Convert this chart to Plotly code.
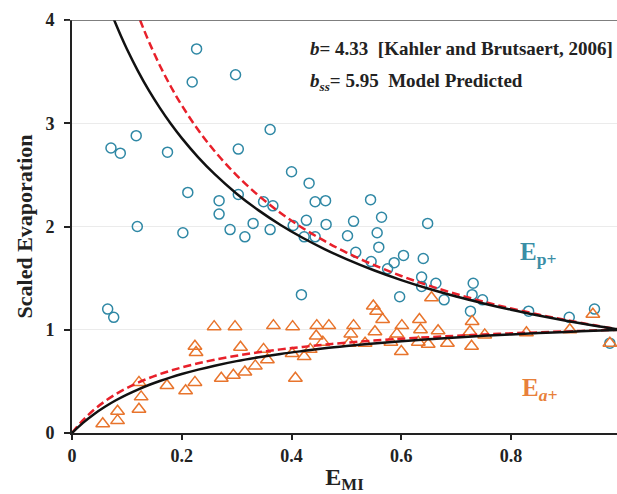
import plotly.graph_objects as go

# ---- data ----
ep_x = [0.227, 0.219, 0.298, 0.117, 0.071, 0.088, 0.174, 0.303, 0.361, 0.211, 0.303, 0.268, 0.268,
        0.349, 0.366, 0.119, 0.202, 0.288, 0.315, 0.330, 0.361, 0.400, 0.432, 0.443, 0.403, 0.427,
        0.423, 0.443, 0.462, 0.544, 0.463, 0.513, 0.564, 0.648, 0.502, 0.556, 0.559, 0.517, 0.545,
        0.575, 0.587, 0.604, 0.640, 0.637, 0.637, 0.663, 0.678, 0.597, 0.731, 0.729, 0.748, 0.726,
        0.832, 0.906, 0.952, 0.980, 0.418, 0.065, 0.076]
ep_y = [3.72, 3.40, 3.47, 2.88, 2.76, 2.71, 2.72, 2.75, 2.94, 2.33, 2.31, 2.25, 2.12,
        2.24, 2.20, 2.00, 1.94, 1.97, 1.90, 2.03, 1.97, 2.53, 2.42, 2.24, 2.01, 2.06,
        1.90, 1.90, 2.25, 2.26, 2.02, 2.05, 2.09, 2.03, 1.91, 1.94, 1.80, 1.75, 1.66,
        1.59, 1.65, 1.72, 1.69, 1.51, 1.42, 1.45, 1.29, 1.32, 1.45, 1.34, 1.29, 1.18,
        1.18, 1.12, 1.20, 0.87, 1.34, 1.20, 1.12]

ea_x = [0.056, 0.083, 0.083, 0.122, 0.126, 0.122, 0.173, 0.207, 0.224, 0.224, 0.226, 0.259, 0.297,
        0.307, 0.272, 0.294, 0.315, 0.334, 0.349, 0.356, 0.367, 0.402, 0.401, 0.423, 0.407, 0.446,
        0.445, 0.434, 0.468, 0.457, 0.513, 0.508, 0.505, 0.534, 0.552, 0.549, 0.555, 0.566, 0.601,
        0.592, 0.581, 0.600, 0.633, 0.635, 0.631, 0.649, 0.655, 0.667, 0.684, 0.729, 0.725, 0.728,
        0.752, 0.828, 0.907, 0.949, 0.980]
ea_y = [0.09, 0.21, 0.12, 0.49, 0.35, 0.23, 0.46, 0.41, 0.49, 0.84, 0.78, 1.03, 1.03,
        0.83, 0.53, 0.56, 0.59, 0.65, 0.81, 0.71, 1.04, 1.03, 0.77, 0.74, 0.53, 1.04,
        0.94, 0.81, 1.04, 0.88, 1.04, 0.96, 0.87, 0.87, 0.98, 1.23, 1.18, 1.10, 1.04,
        0.96, 0.88, 0.79, 1.10, 1.00, 0.88, 0.86, 1.31, 0.99, 0.87, 1.08, 0.98, 0.84,
        0.95, 0.97, 1.00, 1.15, 0.87]

# curve values (b = 4.33, black solid)
kb_ep_x = [0.076, 0.09, 0.10, 0.12, 0.14, 0.16, 0.18, 0.20, 0.23, 0.26, 0.30, 0.34, 0.38, 0.42,
           0.46, 0.50, 0.55, 0.60, 0.65, 0.70, 0.75, 0.80, 0.85, 0.90, 0.95, 1.00]
kb_ep_y = [4.010, 3.835, 3.719, 3.508, 3.318, 3.149, 2.995, 2.856, 2.670, 2.507, 2.318, 2.156,
           2.015, 1.891, 1.782, 1.684, 1.576, 1.481, 1.397, 1.322, 1.255, 1.194, 1.139, 1.088,
           1.042, 1.000]
kb_ea_x = [0.0, 0.02, 0.04, 0.06, 0.08, 0.10, 0.12, 0.14, 0.16, 0.18, 0.20, 0.23, 0.26, 0.30,
           0.34, 0.38, 0.42, 0.46, 0.50, 0.55, 0.60, 0.65, 0.70, 0.75, 0.80, 0.85, 0.90, 0.95, 1.00]
kb_ea_y = [0.0, 0.098, 0.182, 0.254, 0.317, 0.372, 0.421, 0.465, 0.504, 0.539, 0.571, 0.614,
           0.652, 0.696, 0.733, 0.766, 0.794, 0.820, 0.842, 0.867, 0.889, 0.908, 0.925, 0.941,
           0.955, 0.968, 0.979, 0.990, 1.000]

# curve values (b_ss = 5.95, red dashed)
ss_ep_x = [0.124, 0.13, 0.14, 0.16, 0.18, 0.20, 0.23, 0.26, 0.30, 0.34, 0.38, 0.42, 0.46, 0.50,
           0.55, 0.60, 0.65, 0.70, 0.75, 0.80, 0.85, 0.90, 0.95, 1.00]
ss_ep_y = [3.999, 3.919, 3.792, 3.560, 3.356, 3.174, 2.934, 2.729, 2.496, 2.299, 2.131, 1.986,
           1.860, 1.748, 1.627, 1.521, 1.428, 1.346, 1.272, 1.207, 1.147, 1.094, 1.045, 1.000]
ss_ea_x = kb_ea_x
ss_ea_y = [0.0, 0.124, 0.225, 0.307, 0.377, 0.436, 0.487, 0.531, 0.570, 0.604, 0.635, 0.675,
           0.710, 0.749, 0.782, 0.810, 0.834, 0.856, 0.874, 0.895, 0.913, 0.928, 0.942, 0.954,
           0.965, 0.975, 0.984, 0.993, 1.000]

x_ticks = [0, 0.2, 0.4, 0.6, 0.8]
x_tick_text = ["0", "0.2", "0.4", "0.6", "0.8"]
y_ticks = [0, 1, 2, 3, 4]

TEAL = "#2f88a5"
ORANGE = "#e8742c"
FONT = "Liberation Serif, Times New Roman, serif"

fig = go.Figure()
fig.add_trace(go.Scatter(x=ep_x, y=ep_y, mode="markers",
                         marker=dict(symbol="circle-open", size=10, color=TEAL, line=dict(width=1.5)),
                         showlegend=False, cliponaxis=False))
fig.add_trace(go.Scatter(x=ea_x, y=ea_y, mode="markers",
                         marker=dict(symbol="triangle-up-open", size=12, color=ORANGE, line=dict(width=1.5)),
                         showlegend=False, cliponaxis=False))
fig.add_trace(go.Scatter(x=ss_ep_x, y=ss_ep_y, mode="lines", line=dict(color="#e8202a", width=2.5, dash="8px,4px", shape="spline"),
                         showlegend=False))
fig.add_trace(go.Scatter(x=ss_ea_x, y=ss_ea_y, mode="lines", line=dict(color="#e8202a", width=2.5, dash="8px,4px", shape="spline"),
                         showlegend=False))
fig.add_trace(go.Scatter(x=kb_ep_x, y=kb_ep_y, mode="lines", line=dict(color="#111111", width=2.5, shape="spline"),
                         showlegend=False))
fig.add_trace(go.Scatter(x=kb_ea_x, y=kb_ea_y, mode="lines", line=dict(color="#111111", width=2.5, shape="spline"),
                         showlegend=False))

fig.add_shape(type="line", xref="paper", yref="y", x0=-0.012, x1=1, y0=4, y1=4,
              line=dict(color="#555555", width=1.5))

fig.add_annotation(x=0.43, y=3.72, xref="x", yref="y", xanchor="left", yanchor="middle", showarrow=False,
                   text="<b><i>b</i>= 4.33&nbsp;&nbsp;[Kahler and Brutsaert, 2006]</b>",
                   font=dict(family=FONT, size=19, color="#222222"))
fig.add_annotation(x=0.43, y=3.40, xref="x", yref="y", xanchor="left", yanchor="middle", showarrow=False,
                   text="<b><i>b</i><sub><i>ss</i></sub>= 5.95&nbsp;&nbsp;Model Predicted</b>",
                   font=dict(family=FONT, size=19, color="#222222"))
fig.add_annotation(x=0.812, y=1.74, xref="x", yref="y", xanchor="left", yanchor="middle", showarrow=False,
                   text="<b>E<sub>p+</sub></b>",
                   font=dict(family=FONT, size=25, color="#3a8ea6"))
fig.add_annotation(x=0.816, y=0.42, xref="x", yref="y", xanchor="left", yanchor="middle", showarrow=False,
                   text="<b>E<sub><i>a+</i></sub></b>",
                   font=dict(family=FONT, size=25, color="#e8803a"))

fig.update_layout(
    width=617, height=494,
    margin=dict(l=72, r=0, t=20, b=61),
    paper_bgcolor="white", plot_bgcolor="white",
    font=dict(family=FONT, color="#222222"),
    xaxis=dict(range=[0, 0.993], tickvals=x_ticks, ticktext=x_tick_text, showgrid=False, zeroline=False,
               showline=True, linecolor="#222222", linewidth=2, ticks="outside", ticklen=5, tickwidth=1.5,
               tickcolor="#222222",
               tickfont=dict(family=FONT, size=18, color="#222222", weight="bold"),
               title=dict(text="<b>E<sub>MI</sub></b>", font=dict(family=FONT, size=24, color="#222222"), standoff=6)),
    yaxis=dict(range=[0, 4], tickvals=y_ticks, showgrid=True, gridcolor="#ebebeb", gridwidth=1, zeroline=False,
               showline=True, linecolor="#222222", linewidth=2, ticks="outside", ticklen=6, tickwidth=1.5,
               tickcolor="#222222", ticklabelstandoff=6,
               tickfont=dict(family=FONT, size=18, color="#222222", weight="bold"),
               title=dict(text="<b>Scaled Evaporation</b>", font=dict(family=FONT, size=22, color="#222222"), standoff=7)),
)

fig.write_html("out.html")
